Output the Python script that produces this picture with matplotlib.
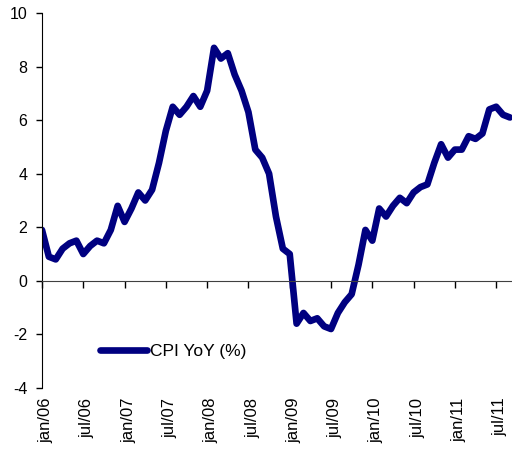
import matplotlib

matplotlib.use("Agg")
import matplotlib.pyplot as plt
from matplotlib.transforms import ScaledTranslation

plt.rcParams["font.family"] = ["Liberation Sans", "DejaVu Sans"]
plt.rcParams["axes.unicode_minus"] = False

# Monthly CPI YoY (%), jan/06 .. sep/11
cpi_yoy = [
    1.9, 0.9, 0.8, 1.2, 1.4, 1.5, 1.0, 1.3, 1.5, 1.4, 1.9, 2.8,  # 2006
    2.2, 2.7, 3.3, 3.0, 3.4, 4.4, 5.6, 6.5, 6.2, 6.5, 6.9, 6.5,  # 2007
    7.1, 8.7, 8.3, 8.5, 7.7, 7.1, 6.3, 4.9, 4.6, 4.0, 2.4, 1.2,  # 2008
    1.0, -1.6, -1.2, -1.5, -1.4, -1.7, -1.8, -1.2, -0.8, -0.5, 0.6, 1.9,  # 2009
    1.5, 2.7, 2.4, 2.8, 3.1, 2.9, 3.3, 3.5, 3.6, 4.4, 5.1, 4.6,  # 2010
    4.9, 4.9, 5.4, 5.3, 5.5, 6.4, 6.5, 6.2, 6.1,  # 2011
]
tick_labels = ["jan/06", "jul/06", "jan/07", "jul/07", "jan/08", "jul/08",
               "jan/09", "jul/09", "jan/10", "jul/10", "jan/11", "jul/11"]
tick_months = [6 * i for i in range(len(tick_labels))]
y_ticks = [-4, -2, 0, 2, 4, 6, 8, 10]

months = list(range(len(cpi_yoy)))

fig = plt.figure(figsize=(5.12, 4.49), dpi=100)
ax = fig.add_axes([0.082, 0.136, 0.918, 0.835])

ax.plot(months, cpi_yoy, color="#000080", linewidth=4.8,
        solid_joinstyle="round", solid_capstyle="round", label="CPI YoY (%)")

ax.set_xlim(0, 68.3)
ax.set_ylim(-4, 10)
ax.set_yticks(y_ticks)
ax.tick_params(axis="y", labelsize=11.5, length=4.5, width=1, pad=6)

# x axis line sits at zero, labels stay at the bottom
ax.spines["bottom"].set_position(("data", 0))
ax.spines["top"].set_visible(False)
ax.spines["right"].set_visible(False)
ax.spines["bottom"].set_color("#404040")
ax.set_xticks(tick_months)
ax.tick_params(axis="x", length=5, width=1, labelbottom=False)

sec = ax.secondary_xaxis(0.0)
sec.set_xticks(tick_months)
sec.set_xticklabels(tick_labels, rotation=90)
sec.tick_params(axis="x", length=0, labelsize=12, pad=7)
sec.spines["bottom"].set_visible(False)
# labels sit a few pixels right of their ticks in the original
shift = ScaledTranslation(4 / 100, 0, fig.dpi_scale_trans)
for lbl in sec.get_xticklabels():
    lbl.set_transform(lbl.get_transform() + shift)

ax.legend(loc="center left", bbox_to_anchor=(0.124, 0.097), frameon=False,
          fontsize=12.5, handlelength=2.7, handletextpad=0.15,
          borderpad=0, borderaxespad=0)

fig.savefig("out.png", dpi=100)
